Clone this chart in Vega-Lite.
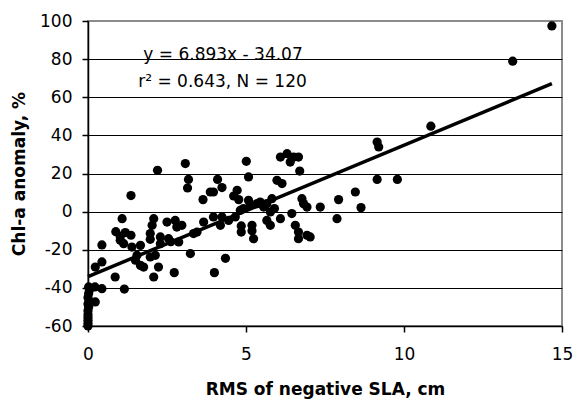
{
  "$schema": "https://vega.github.io/schema/vega-lite/v6.json",
  "autosize": {"type": "none"},
  "width": 474,
  "height": 305,
  "padding": {"left": 88, "top": 21, "right": 12, "bottom": 73},
  "background": "white",
  "config": {
    "view": {"stroke": "#8c8c8c", "strokeWidth": 2},
    "font": "DejaVu Sans",
    "axis": {
      "labelFont": "DejaVu Sans",
      "labelFontSize": 17,
      "labelColor": "black",
      "labelOverlap": false,
      "labelFlush": false,
      "titleFont": "DejaVu Sans",
      "titleFontSize": 17,
      "titleFontWeight": "bold",
      "titleColor": "black",
      "domainColor": "black",
      "domainWidth": 1.5,
      "tickColor": "black",
      "tickWidth": 1.5,
      "tickSize": 6,
      "tickCount": 20
    }
  },
  "datasets": {
    "obs": [
      {"rms": 0, "chl": -60}, {"rms": 0, "chl": -58.5}, {"rms": 0, "chl": -57}, {"rms": 0, "chl": -55.5},
      {"rms": 0, "chl": -54}, {"rms": 0, "chl": -52}, {"rms": 0.02, "chl": -50}, {"rms": 0, "chl": -48.5},
      {"rms": 0.03, "chl": -47}, {"rms": 0, "chl": -45}, {"rms": 0.02, "chl": -43}, {"rms": 0.05, "chl": -41},
      {"rms": 0.02, "chl": -39.5},
      {"rms": 0.22, "chl": -39.5}, {"rms": 0.23, "chl": -47.4}, {"rms": 0.44, "chl": -40.4}, {"rms": 0.23, "chl": -29.1},
      {"rms": 0.44, "chl": -26.4}, {"rms": 0.44, "chl": -17.5}, {"rms": 0.86, "chl": -34.3}, {"rms": 1.15, "chl": -40.6},
      {"rms": 0.88, "chl": -10.5}, {"rms": 1.02, "chl": -13}, {"rms": 1.18, "chl": -11}, {"rms": 1.36, "chl": -12.4},
      {"rms": 1.08, "chl": -3.7}, {"rms": 1.02, "chl": -15}, {"rms": 1.13, "chl": -16.8}, {"rms": 1.39, "chl": -18.6},
      {"rms": 1.66, "chl": -17.7}, {"rms": 1.55, "chl": -22.9}, {"rms": 1.5, "chl": -25.5}, {"rms": 1.66, "chl": -28.2},
      {"rms": 1.76, "chl": -29.1}, {"rms": 1.36, "chl": 8.4},
      {"rms": 1.97, "chl": -11.5}, {"rms": 2.03, "chl": -7.2}, {"rms": 2.08, "chl": -3.7}, {"rms": 1.97, "chl": -14.5},
      {"rms": 2.29, "chl": -13.3}, {"rms": 2.29, "chl": -16.8}, {"rms": 2.5, "chl": -5.5}, {"rms": 2.55, "chl": -14.2},
      {"rms": 2.62, "chl": -15.8}, {"rms": 2.76, "chl": -4.6}, {"rms": 2.81, "chl": -8.1}, {"rms": 2.97, "chl": -7.2},
      {"rms": 2.87, "chl": -15.9}, {"rms": 1.97, "chl": -23.8}, {"rms": 2.13, "chl": -22.9}, {"rms": 2.23, "chl": -29.1},
      {"rms": 2.08, "chl": -34.3}, {"rms": 2.73, "chl": -32.0}, {"rms": 2.2, "chl": 21.7}, {"rms": 3.08, "chl": 25.2},
      {"rms": 3.18, "chl": 16.9}, {"rms": 3.15, "chl": 12.4},
      {"rms": 3.24, "chl": -22.0}, {"rms": 3.34, "chl": -11.5}, {"rms": 3.45, "chl": -10.7}, {"rms": 3.66, "chl": -5.5},
      {"rms": 3.64, "chl": 6.3}, {"rms": 3.87, "chl": 10.3}, {"rms": 3.97, "chl": 10.3}, {"rms": 4.1, "chl": 16.9},
      {"rms": 4.24, "chl": 12.6}, {"rms": 3.97, "chl": -2.8}, {"rms": 4.19, "chl": -7.2}, {"rms": 4.24, "chl": -2.8},
      {"rms": 4.45, "chl": -4.6}, {"rms": 4.66, "chl": -2.8}, {"rms": 4.0, "chl": -32.0}, {"rms": 4.35, "chl": -24.5},
      {"rms": 4.72, "chl": 11.2}, {"rms": 4.61, "chl": 8.2}, {"rms": 4.77, "chl": 6.3}, {"rms": 4.82, "chl": 0.7},
      {"rms": 4.92, "chl": 1.6}, {"rms": 5.08, "chl": 5.9}, {"rms": 5.14, "chl": 3.3}, {"rms": 5.35, "chl": 4.2},
      {"rms": 4.85, "chl": -7.5}, {"rms": 4.85, "chl": -10.7}, {"rms": 5.19, "chl": -7.2}, {"rms": 5.19, "chl": -10},
      {"rms": 5.24, "chl": -14.2}, {"rms": 5.01, "chl": 26.4}, {"rms": 5.08, "chl": 18.2},
      {"rms": 5.45, "chl": 5.0}, {"rms": 5.56, "chl": 2.4}, {"rms": 5.66, "chl": 4.2}, {"rms": 5.82, "chl": 6.8},
      {"rms": 5.77, "chl": -0.2}, {"rms": 5.9, "chl": 1.6}, {"rms": 5.66, "chl": -4.6}, {"rms": 5.77, "chl": -7.2},
      {"rms": 6.09, "chl": -3.7}, {"rms": 5.98, "chl": 16.4}, {"rms": 6.14, "chl": 14.7}, {"rms": 6.09, "chl": 28.6},
      {"rms": 6.3, "chl": 30.4}, {"rms": 6.51, "chl": 28.6}, {"rms": 6.4, "chl": 26.0}, {"rms": 6.66, "chl": 28.6},
      {"rms": 6.7, "chl": 21.3},
      {"rms": 6.45, "chl": -1.0}, {"rms": 6.56, "chl": -7.2}, {"rms": 6.66, "chl": -10.7}, {"rms": 6.66, "chl": -14.2},
      {"rms": 6.93, "chl": -12.4}, {"rms": 7.03, "chl": -13.3}, {"rms": 6.77, "chl": 6.8}, {"rms": 6.82, "chl": 4.2},
      {"rms": 6.93, "chl": 2.4}, {"rms": 7.35, "chl": 2.4},
      {"rms": 7.93, "chl": 6.3}, {"rms": 7.88, "chl": -3.7}, {"rms": 8.46, "chl": 10.3}, {"rms": 8.64, "chl": 2.1},
      {"rms": 9.15, "chl": 36.5}, {"rms": 9.2, "chl": 33.9}, {"rms": 9.15, "chl": 16.9}, {"rms": 9.79, "chl": 16.9},
      {"rms": 10.85, "chl": 44.8}, {"rms": 13.44, "chl": 78.9}, {"rms": 14.68, "chl": 97.4}
    ],
    "fit": [
      {"rms": 0, "chl": -34.07},
      {"rms": 14.68, "chl": 67.12}
    ],
    "notes": [
      {"rms": 1.75, "chl": 79.8, "label": "y = 6.893x - 34.07"},
      {"rms": 1.59, "chl": 65.4, "label": "r² = 0.643, N = 120"}
    ]
  },
  "layer": [
    {
      "data": {"name": "obs"},
      "mark": {"type": "point", "filled": true, "color": "black", "opacity": 1, "size": 85},
      "encoding": {
        "x": {
          "field": "rms", "type": "quantitative",
          "scale": {"domain": [0, 15], "nice": false, "zero": false},
          "axis": {
            "values": [0, 5, 10, 15], "grid": false,
            "title": "RMS of negative SLA, cm",
            "labelPadding": 14, "titlePadding": 19
          }
        },
        "y": {
          "field": "chl", "type": "quantitative",
          "scale": {"domain": [-60, 100], "nice": false, "zero": false},
          "axis": {
            "values": [-60, -40, -20, 0, 20, 40, 60, 80, 100],
            "grid": true,
            "gridColor": {"condition": {"test": "datum.value === 100", "value": "#8c8c8c"}, "value": "black"},
            "gridWidth": 1.2,
            "labelExpr": "datum.value + ''",
            "title": "Chl-a anomaly, %",
            "labelPadding": 10, "titlePadding": 11
          }
        }
      }
    },
    {
      "data": {"name": "fit"},
      "mark": {"type": "line", "color": "black", "strokeWidth": 3.5},
      "encoding": {
        "x": {"field": "rms", "type": "quantitative"},
        "y": {"field": "chl", "type": "quantitative"}
      }
    },
    {
      "data": {"name": "notes"},
      "mark": {"type": "text", "align": "left", "baseline": "alphabetic", "fontSize": 17, "font": "DejaVu Sans", "color": "black"},
      "encoding": {
        "x": {"field": "rms", "type": "quantitative"},
        "y": {"field": "chl", "type": "quantitative"},
        "text": {"field": "label"}
      }
    }
  ]
}
